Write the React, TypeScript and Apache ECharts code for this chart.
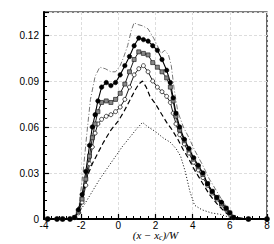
import React, { useEffect, useRef } from "react";
import * as echarts from "echarts";

const xTicks = [-4, -2, 0, 2, 4, 6, 8];
const yTicks = [0, 0.03, 0.06, 0.09, 0.12];

const markerX = [-3.8, -3.3, -3.0, -2.6, -2.35, -2.15, -1.95, -1.75, -1.55, -1.4, -1.25, -1.1, -0.9, -0.65, -0.4, -0.15, 0.1, 0.35, 0.6, 0.85, 1.1, 1.35, 1.6, 1.85, 2.1, 2.35, 2.6, 2.8, 2.95, 3.1, 3.3, 3.55, 3.8, 4.05, 4.3, 4.55, 4.8, 5.05, 5.3, 5.55, 5.8, 6.0, 6.2, 7.0, 8.0];
const filledCircleY = [0, 0, 0, 0, 0.001, 0.006, 0.016, 0.031, 0.048, 0.06, 0.068, 0.077, 0.086, 0.089, 0.087, 0.089, 0.094, 0.1, 0.106, 0.113, 0.118, 0.117, 0.116, 0.113, 0.11, 0.104, 0.097, 0.089, 0.079, 0.069, 0.06, 0.052, 0.046, 0.04, 0.035, 0.03, 0.023, 0.018, 0.014, 0.011, 0.007, 0.004, 0.001, 0, 0];
const greySquareY = [0, 0, 0, 0, 0.001, 0.005, 0.013, 0.026, 0.041, 0.053, 0.062, 0.07, 0.076, 0.077, 0.076, 0.078, 0.082, 0.088, 0.096, 0.104, 0.109, 0.108, 0.107, 0.102, 0.099, 0.096, 0.092, 0.086, 0.077, 0.067, 0.058, 0.051, 0.045, 0.039, 0.034, 0.029, 0.023, 0.018, 0.014, 0.01, 0.007, 0.004, 0.001, 0, 0];
const openCircleY = [0, 0, 0, 0, 0.001, 0.004, 0.011, 0.022, 0.036, 0.047, 0.056, 0.062, 0.065, 0.067, 0.068, 0.07, 0.073, 0.078, 0.086, 0.094, 0.098, 0.1, 0.096, 0.09, 0.086, 0.083, 0.08, 0.076, 0.069, 0.062, 0.055, 0.049, 0.043, 0.037, 0.032, 0.027, 0.022, 0.017, 0.013, 0.009, 0.006, 0.003, 0.001, 0, 0];

const dashedX = [-2.4, -2.2, -2.0, -1.8, -1.6, -1.4, -1.1, -0.8, -0.4, 0, 0.3, 0.6, 0.9, 1.1, 1.3, 1.5, 1.7, 2.0, 2.3, 2.6, 2.9, 3.2, 3.5, 3.8, 4.1, 4.5, 4.9, 5.3, 5.7, 6.0, 6.3];
const dashedY = [0, 0.004, 0.012, 0.022, 0.03, 0.036, 0.043, 0.05, 0.058, 0.064, 0.07, 0.077, 0.084, 0.088, 0.09, 0.086, 0.08, 0.075, 0.069, 0.063, 0.058, 0.052, 0.045, 0.039, 0.032, 0.024, 0.016, 0.01, 0.005, 0.002, 0];

const dottedX = [-2.4, -2.2, -1.8, -1.4, -1.0, -0.6, -0.2, 0.2, 0.6, 1.0, 1.3, 1.6, 2.0, 2.4, 2.8, 3.1, 3.35, 3.6, 3.85, 4.1, 4.5, 5.0, 5.5, 6.0, 6.3];
const dottedY = [0, 0.003, 0.01, 0.018, 0.026, 0.033, 0.04, 0.047, 0.053, 0.059, 0.063, 0.06, 0.057, 0.053, 0.05, 0.046, 0.041, 0.031, 0.018, 0.009, 0.006, 0.004, 0.003, 0.001, 0];

const dashDotX = [-2.5, -2.3, -2.1, -1.9, -1.7, -1.5, -1.25, -1.0, -0.7, -0.4, -0.15, 0.1, 0.3, 0.5, 0.7, 0.85, 1.0, 1.3, 1.6, 1.9, 2.1, 2.3, 2.5, 2.7, 2.85, 3.0, 3.2, 3.5, 3.8, 4.1, 4.5, 4.9, 5.3, 5.7, 6.0, 6.3];
const dashDotY = [0, 0.002, 0.01, 0.03, 0.055, 0.078, 0.093, 0.099, 0.098, 0.096, 0.096, 0.1, 0.106, 0.113, 0.123, 0.128, 0.127, 0.126, 0.124, 0.118, 0.113, 0.108, 0.11, 0.107, 0.1, 0.085, 0.07, 0.06, 0.053, 0.045, 0.036, 0.026, 0.018, 0.01, 0.005, 0];

const zip = (xs: number[], ys: number[]) => xs.map((x, i) => [x, ys[i]]);

export default function App() {
  const ref = useRef<HTMLDivElement>(null);
  useEffect(() => {
    if (!ref.current) return;
    const chart = echarts.init(ref.current, null, { renderer: "svg" });
    const font = "Liberation Sans, Arial, sans-serif";
    chart.setOption({
      animation: false,
      backgroundColor: "#fff",
      grid: { left: 44, right: 7, top: 12, bottom: 25, show: true, borderColor: "#000", borderWidth: 1.2, backgroundColor: "transparent", outerBoundsMode: "none", containLabel: false },
      xAxis: {
        type: "value",
        min: xTicks[0],
        max: xTicks[xTicks.length - 1],
        interval: 2,
        name: "{i|(x − x}{s|c}{i|)/W}",
        nameLocation: "middle",
        nameGap: 10,
        nameMoveOverlap: false,
        nameTextStyle: {
          lineHeight: 12,
          rich: {
            i: { fontFamily: "Liberation Serif, serif", fontStyle: "italic", fontSize: 11, lineHeight: 12, color: "#000" },
            s: { fontFamily: "Liberation Serif, serif", fontStyle: "italic", fontSize: 7.5, lineHeight: 12, color: "#000", verticalAlign: "bottom", padding: [3, 0, 0, 0] },
          },
        },
        axisLine: { onZero: false, lineStyle: { color: "#000", width: 2 } },
        axisTick: { inside: true, length: 5, lineStyle: { color: "#000", width: 1.2 } },
        minorTick: { show: true, splitNumber: 5, length: 3, lineStyle: { color: "#000", width: 1 } },
        axisLabel: { fontFamily: font, fontSize: 10, color: "#000", margin: 1 },
        splitLine: { show: true, lineStyle: { color: "#ddd", type: [3, 2], width: 1 } },
      },
      yAxis: {
        type: "value",
        min: 0,
        max: 0.135,
        interval: 0.03,
        axisLine: { show: true, onZero: false, lineStyle: { color: "#000", width: 2 } },
        axisTick: { inside: true, length: 5, lineStyle: { color: "#000", width: 1.2 } },
        minorTick: { show: true, splitNumber: 5, length: 3, lineStyle: { color: "#000", width: 1 } },
        axisLabel: { fontFamily: font, fontSize: 10, color: "#000", margin: 5, showMaxLabel: false },
        splitLine: { show: true, lineStyle: { color: "#ddd", type: [3, 2], width: 1 } },
      },
      series: [
        { type: "line", data: zip(dottedX, dottedY), showSymbol: false, lineStyle: { color: "#000", width: 1, type: [1, 2] } },
        { type: "line", data: zip(dashedX, dashedY), showSymbol: false, lineStyle: { color: "#000", width: 1.2, type: [5, 3] } },
        { type: "line", data: zip(dashDotX, dashDotY), showSymbol: false, lineStyle: { color: "#777", width: 1, type: [5, 2, 1, 2] } },
        { type: "line", data: zip(markerX, openCircleY), symbol: "circle", symbolSize: 4, lineStyle: { color: "#000", width: 0.9 }, itemStyle: { color: "#fff", borderColor: "#000", borderWidth: 0.7 } },
        { type: "line", data: zip(markerX, greySquareY), symbol: "rect", symbolSize: 4, lineStyle: { color: "#000", width: 0.9 }, itemStyle: { color: "#888", borderColor: "#222", borderWidth: 0.7 } },
        { type: "line", data: zip(markerX, filledCircleY), symbol: "circle", symbolSize: 4.5, lineStyle: { color: "#000", width: 1.1 }, itemStyle: { color: "#000", borderColor: "#000", borderWidth: 0.5 } },
      ],
    });
    return () => chart.dispose();
  }, []);
  return <div ref={ref} style={{ width: 274, height: 244, position: "absolute", left: 0, top: 0 }} />;
}
